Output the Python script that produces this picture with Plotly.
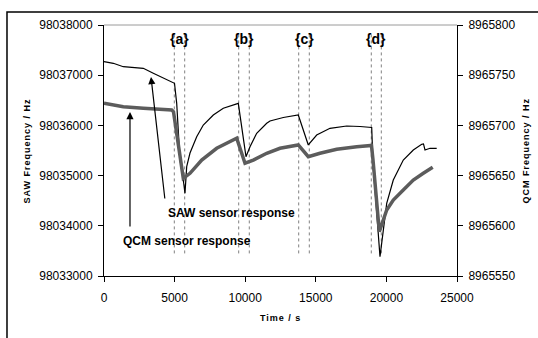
import plotly.graph_objects as go

# ---------------- data ----------------
saw_time = [0, 659, 1367, 2783, 3491, 4200, 4794, 4993, 5149, 5262, 5382, 5616, 5736,
            5857, 6091, 6565, 7032, 7741, 8449, 9511, 10056, 10340, 10814, 11523, 11756,
            12698, 13760, 14468, 15063, 16005, 17188, 18130, 18959, 19051, 19546, 20021,
            20488, 21196, 21905, 22500, 22627, 22733, 23087, 23562]
saw_freq = [98037269, 98037237, 98037169, 98037137, 98037038, 98036938, 98036871, 98036839,
            98036440, 98035775, 98035311, 98034912, 98034647, 98035177, 98035450, 98035775,
            98036008, 98036207, 98036341, 98036440, 98035377, 98035576, 98035843, 98036042,
            98036088, 98036157, 98036207, 98035610, 98035809, 98035942, 98035988, 98035978,
            98035958, 98035251, 98033384, 98034448, 98034912, 98035311, 98035510, 98035624,
            98035630, 98035510, 98035544, 98035544]

qcm_time = [0, 1367, 2783, 4794, 4922, 5616, 6091, 6919, 7981, 8689, 9398, 9986, 10573,
            11523, 12464, 13760, 14468, 15297, 16480, 17896, 18944, 19051, 19497, 20021,
            20488, 21196, 21905, 22613, 23279]
qcm_freq = [8965722.0, 8965718.6, 8965717.0, 8965715.3, 8965713.6, 8965647.3, 8965652.3,
            8965665.5, 8965677.2, 8965682.2, 8965687.2, 8965662.3, 8965665.5, 8965672.2,
            8965677.2, 8965680.5, 8965668.8, 8965672.2, 8965676.2, 8965678.8, 8965680.0,
            8965665.5, 8965594.1, 8965615.7, 8965625.7, 8965635.7, 8965645.6, 8965652.3,
            8965658.3]

event_labels = ["{a}", "{b}", "{c}", "{d}"]
event_start = [4979, 9540, 13789, 18930]
event_end = [5715, 10290, 14540, 19639]

x_ticks = [0, 5000, 10000, 15000, 20000, 25000]
saw_ticks = [98033000, 98034000, 98035000, 98036000, 98037000, 98038000]
qcm_ticks = [8965550, 8965600, 8965650, 8965700, 8965750, 8965800]

FONT = "Arial, 'Liberation Sans', sans-serif"

fig = go.Figure()
fig.add_trace(go.Scatter(x=qcm_time, y=qcm_freq, yaxis="y2", mode="lines",
                         line=dict(color="#5c5c5c", width=3.5), showlegend=False,
                         name="QCM"))
fig.add_trace(go.Scatter(x=saw_time, y=saw_freq, yaxis="y", mode="lines",
                         line=dict(color="black", width=1.2), showlegend=False,
                         name="SAW"))

shapes = []
annotations = []
dot_lo, dot_hi = 98033450, 98037850
for lab, s, e in zip(event_labels, event_start, event_end):
    for t in (s, e):
        shapes.append(dict(type="line", xref="x", yref="y", x0=t, x1=t, y0=dot_lo, y1=dot_hi,
                           line=dict(color="#808080", width=1, dash="dot"), layer="below"))
    annotations.append(dict(x=(s + e) / 2, y=98037721, xref="x", yref="y", text="<b>" + lab + "</b>",
                            showarrow=False, font=dict(family=FONT, size=14, color="black")))

# top grey border of plot area
shapes.append(dict(type="line", xref="paper", yref="paper", x0=0, x1=1, y0=1, y1=1,
                   line=dict(color="#9a9a9a", width=1)))
# outer chart frame
shapes.append(dict(type="rect", xref="paper", yref="paper", x0=-0.2748, x1=1.35, y0=-0.35, y1=1.0518,
                   line=dict(color="black", width=1.5), fillcolor="rgba(0,0,0,0)"))

# arrows
annotations.append(dict(x=1841, y=98036267, ax=1841, ay=98033956, xref="x", yref="y",
                        axref="x", ayref="y", text="", showarrow=True, arrowhead=2,
                        arrowsize=1.2, arrowwidth=1.2, arrowcolor="black"))
annotations.append(dict(x=3329, y=98036964, ax=4320, ay=98034514, xref="x", yref="y",
                        axref="x", ayref="y", text="", showarrow=True, arrowhead=2,
                        arrowsize=1.2, arrowwidth=1.2, arrowcolor="black"))
annotations.append(dict(x=8994, y=98034255, xref="x", yref="y", text="<b>SAW sensor response</b>",
                        showarrow=False, font=dict(family=FONT, size=12, color="black")))
annotations.append(dict(x=5843, y=98033703, xref="x", yref="y", text="<b>QCM sensor response</b>",
                        showarrow=False, font=dict(family=FONT, size=12, color="black")))

# axis titles
ls = '<span style="letter-spacing:1px">'
annotations.append(dict(x=-0.238, y=0.5, xref="paper", yref="paper",
                        text="<b>" + ls + "SAW Frequency / Hz</span></b>", textangle=-90,
                        showarrow=False, font=dict(family=FONT, size=9, color="black")))
annotations.append(dict(x=1.2125, y=0.5, xref="paper", yref="paper",
                        text="<b>" + ls + "QCM Frequency / Hz</span></b>", textangle=-90,
                        showarrow=False, font=dict(family=FONT, size=9, color="black")))
annotations.append(dict(x=0.499, y=-0.195, xref="paper", yref="paper",
                        text="<b>" + ls + "Time / s</span></b>",
                        showarrow=False, font=dict(family=FONT, size=9, color="black")))

axis_common = dict(showgrid=False, zeroline=False, showline=True, linecolor="black", linewidth=1,
                   ticks="outside", ticklen=5, tickcolor="black", tickwidth=1,
                   tickfont=dict(family=FONT, size=12, color="black"))

fig.update_layout(
    width=538, height=338,
    margin=dict(l=104, r=81, t=25, b=62),
    paper_bgcolor="white", plot_bgcolor="white",
    showlegend=False,
    xaxis=dict(range=[0, 25000], tickvals=x_ticks, ticktext=[str(v) for v in x_ticks],
               ticklabelstandoff=6, **axis_common),
    yaxis=dict(range=[98033000, 98038000], tickvals=saw_ticks, ticktext=[str(v) for v in saw_ticks],
               ticklabelstandoff=3, **axis_common),
    yaxis2=dict(range=[8965550, 8965800], tickvals=qcm_ticks, ticktext=[str(v) for v in qcm_ticks],
                overlaying="y", side="right", ticklabelstandoff=3, **axis_common),
    shapes=shapes,
    annotations=annotations,
)

fig.write_html("out.html")
